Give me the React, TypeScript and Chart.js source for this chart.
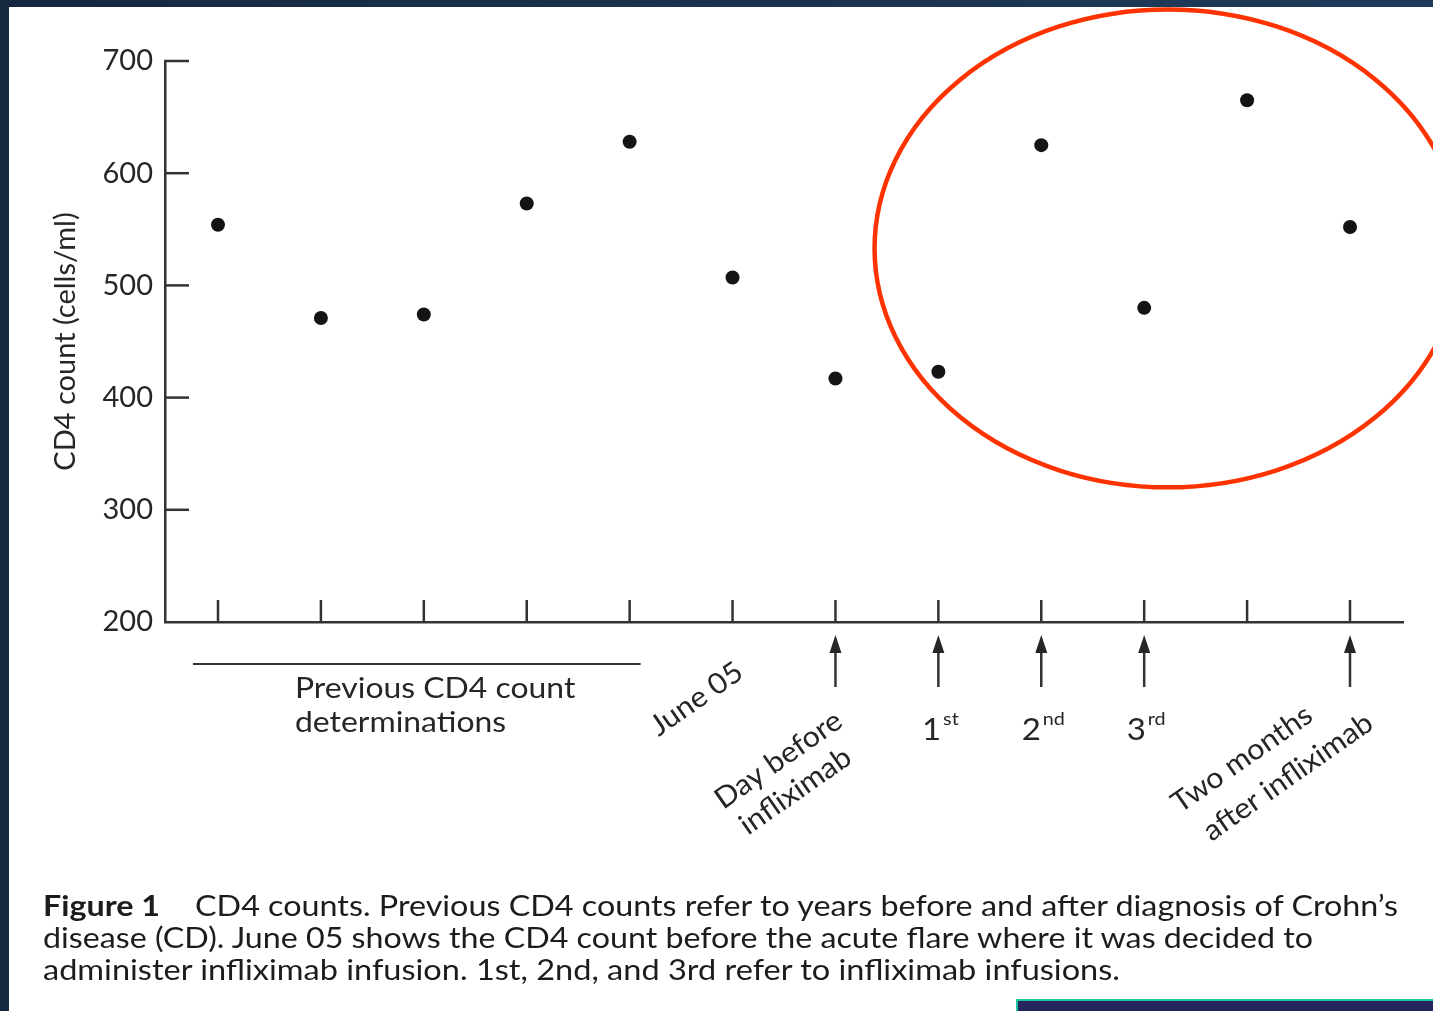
import React, { useEffect, useRef } from "react";
import { Chart, registerables } from "chart.js";

Chart.register(...registerables);

// ---- data ----
const categories = [
  "Previous 1",
  "Previous 2",
  "Previous 3",
  "Previous 4",
  "Previous 5",
  "June 05",
  "Day before infliximab",
  "1st",
  "2nd",
  "3rd",
  "",
  "Two months after infliximab",
];
const cd4Values = [554, 471, 474, 573, 628, 507, 417, 423, 625, 480, 665, 552];
const yTickValues = [200, 300, 400, 500, 600, 700];
const arrowCategories = ["Day before infliximab", "1st", "2nd", "3rd", "Two months after infliximab"];
const superscriptLabels = [
  { category: "1st", main: "1", sup: "st" },
  { category: "2nd", main: "2", sup: "nd" },
  { category: "3rd", main: "3", sup: "rd" },
];
const rotatedLabels = [
  { category: "June 05", lines: ["June 05"] },
  { category: "Day before infliximab", lines: ["Day before", "infliximab"] },
  { category: "Two months after infliximab", lines: ["Two months", "after infliximab"] },
];
const previousSpan = ["Previous 1", "Previous 5"];
const previousLabel = ["Previous CD4 count", "determinations"];
// highlighted region (in data units): center category position, center value, radii
const highlight = { cx: 10.23, cy: 533, rx: 2.85, ry: 213 };

const yTitle = "CD4 count (cells/ml)";
const captionBold = "Figure 1";
const captionLines = [
  "CD4 counts. Previous CD4 counts refer to years before and after diagnosis of Crohn\u2019s",
  "disease (CD). June 05 shows the CD4 count before the acute flare where it was decided to",
  "administer infliximab infusion. 1st, 2nd, and 3rd refer to infliximab infusions.",
];

const FONT = "Lato, 'Noto Sans', sans-serif";
const INK = "#262626";
const STRETCH = 1.1; // horizontal widening to mimic the wider original typeface

// layout offsets (px) for the drawn annotations, relative to category pixel / axis bottom
const rotOffsets: Record<string, [number, number][]> = {
  "June 05": [[-36, 77]],
  "Day before infliximab": [[-57, 138], [-40, 169]],
  "Two months after infliximab": [[-108, 137], [-62, 155]],
};

function stretchedText(ctx: any, text: string, x: number, y: number, sx: number) {
  ctx.save();
  ctx.translate(x, y);
  ctx.scale(sx, 1);
  ctx.fillText(text, 0, 0);
  ctx.restore();
}

const annotationPlugin = {
  id: "cd4Annotations",
  afterDraw(chart: any) {
    const { ctx, chartArea } = chart;
    const xs = chart.scales.x;
    const ys = chart.scales.y;
    const px = (cat: string) => xs.getPixelForValue(categories.indexOf(cat) + 1);
    const bottom = chartArea.bottom;
    const left = chartArea.left;
    ctx.save();
    ctx.strokeStyle = "#333";
    ctx.fillStyle = INK;
    ctx.lineWidth = 2.5;
    ctx.lineCap = "butt";

    // inward y ticks
    yTickValues.forEach((v) => {
      if (v === ys.min) return;
      const y = ys.getPixelForValue(v);
      ctx.beginPath();
      ctx.moveTo(left - 1, y);
      ctx.lineTo(left + 24, y);
      ctx.stroke();
    });
    // inward x ticks
    categories.forEach((_, i) => {
      const x = xs.getPixelForValue(i + 1);
      ctx.beginPath();
      ctx.moveTo(x, bottom - 22);
      ctx.lineTo(x, bottom);
      ctx.stroke();
    });

    // bracket line under previous determinations
    const x0 = xs.getPixelForValue(categories.indexOf(previousSpan[0]) + 1) - 25;
    const x1 = xs.getPixelForValue(categories.indexOf(previousSpan[1]) + 1) + 11;
    ctx.lineWidth = 2;
    ctx.beginPath();
    ctx.moveTo(x0, bottom + 42);
    ctx.lineTo(x1, bottom + 42);
    ctx.stroke();

    ctx.font = `29px ${FONT}`;
    ctx.textAlign = "left";
    ctx.textBaseline = "alphabetic";
    stretchedText(ctx, previousLabel[0], x0 + 102, bottom + 76, STRETCH);
    stretchedText(ctx, previousLabel[1], x0 + 102, bottom + 110, STRETCH);

    // arrows
    ctx.lineWidth = 2.5;
    arrowCategories.forEach((cat) => {
      const x = px(cat);
      ctx.beginPath();
      ctx.moveTo(x, bottom + 28);
      ctx.lineTo(x, bottom + 65);
      ctx.stroke();
      ctx.beginPath();
      ctx.moveTo(x, bottom + 13);
      ctx.lineTo(x - 6, bottom + 31);
      ctx.lineTo(x + 6, bottom + 31);
      ctx.closePath();
      ctx.fill();
    });

    // superscript labels
    superscriptLabels.forEach((s) => {
      const x = px(s.category);
      ctx.font = `30px ${FONT}`;
      const w1 = ctx.measureText(s.main).width * STRETCH;
      ctx.font = `18px ${FONT}`;
      const w2 = ctx.measureText(s.sup).width * STRETCH;
      const gap = 2;
      const start = x - (w1 + gap + w2) / 2 + 2;
      ctx.font = `30px ${FONT}`;
      ctx.textAlign = "left";
      stretchedText(ctx, s.main, start, bottom + 118, STRETCH);
      ctx.font = `18px ${FONT}`;
      stretchedText(ctx, s.sup, start + w1 + gap, bottom + 103, STRETCH);
    });

    // rotated labels
    ctx.font = `29px ${FONT}`;
    ctx.textAlign = "center";
    ctx.textBaseline = "middle";
    rotatedLabels.forEach((r) => {
      const x = px(r.category);
      r.lines.forEach((line, k) => {
        const [dx, dy] = rotOffsets[r.category][k];
        ctx.save();
        ctx.translate(x + dx, bottom + dy);
        ctx.rotate((-35 * Math.PI) / 180);
        ctx.scale(1.05, 1);
        ctx.fillText(line, 0, 0);
        ctx.restore();
      });
    });

    // highlight ellipse
    const cx = xs.getPixelForValue(highlight.cx);
    const cy = ys.getPixelForValue(highlight.cy);
    const rx = Math.abs(xs.getPixelForValue(highlight.cx + highlight.rx) - cx);
    const ry = Math.abs(ys.getPixelForValue(highlight.cy + highlight.ry) - cy);
    ctx.strokeStyle = "#ff3300";
    ctx.lineWidth = 4.5;
    ctx.beginPath();
    ctx.ellipse(cx, cy, rx, ry, 0, 0, Math.PI * 2);
    ctx.stroke();
    ctx.restore();
  },
};

export default function App() {
  const canvasRef = useRef<HTMLCanvasElement>(null);

  useEffect(() => {
    const canvas = canvasRef.current;
    if (!canvas) return;
    const chart = new Chart(canvas, {
      type: "scatter",
      data: {
        labels: categories,
        datasets: [
          {
            label: "CD4 count",
            data: cd4Values.map((v, i) => ({ x: i + 1, y: v })),
            pointRadius: 7,
            pointHoverRadius: 7,
            pointBackgroundColor: "#141414",
            pointBorderWidth: 0,
            showLine: false,
            clip: false as any,
          },
        ],
      },
      options: {
        responsive: false,
        animation: false,
        events: [],
        layout: { padding: { top: 61, right: 30, left: 0, bottom: 0 } },
        plugins: { legend: { display: false }, tooltip: { enabled: false } },
        scales: {
          x: {
            type: "linear",
            min: 0.485,
            max: 12.515,
            ticks: { display: false },
            grid: { display: false, drawTicks: false },
            border: { display: true, color: "#333", width: 2.5 },
            afterFit: (s: any) => {
              s.height = 389;
            },
          },
          y: {
            type: "linear",
            min: yTickValues[0],
            max: yTickValues[yTickValues.length - 1],
            afterBuildTicks: (s: any) => {
              s.ticks = yTickValues.map((v) => ({ value: v }));
            },
            ticks: {
              padding: 12,
              color: INK,
              font: { family: FONT, size: 29 },
            },
            grid: { display: false, drawTicks: false },
            border: { display: true, color: "#333", width: 2.5 },
            title: {
              display: true,
              text: yTitle,
              color: INK,
              font: { family: FONT, size: 29 },
              padding: { top: 48, bottom: 0 },
            },
            afterFit: (s: any) => {
              s.width = 165;
            },
          },
        },
      } as any,
      plugins: [annotationPlugin],
    });
    return () => chart.destroy();
  }, []);

  return (
    <div
      style={{
        position: "absolute",
        left: 0,
        top: 0,
        width: 1433,
        height: 1011,
        background: "#fff",
        overflow: "hidden",
      }}
    >
      <canvas ref={canvasRef} width={1433} height={1011} style={{ position: "absolute", left: 0, top: 0 }} />
      <svg
        width={1433}
        height={1011}
        style={{ position: "absolute", left: 0, top: 0, pointerEvents: "none" }}
      >
        <g fill="#1c1c1c" fontFamily={FONT} fontSize={28}>
          <text x={43} y={916} fontWeight="bold" textLength={117} lengthAdjust="spacingAndGlyphs">
            {captionBold}
          </text>
          <text x={195} y={916} textLength={1203} lengthAdjust="spacingAndGlyphs">
            {captionLines[0]}
          </text>
          <text x={43} y={948} textLength={1270} lengthAdjust="spacingAndGlyphs">
            {captionLines[1]}
          </text>
          <text x={43} y={980} textLength={1077} lengthAdjust="spacingAndGlyphs">
            {captionLines[2]}
          </text>
        </g>
      </svg>
      <div
        style={{
          position: "absolute",
          left: 0,
          top: 0,
          width: 1433,
          height: 7,
          background: "linear-gradient(to right, #162840, #1f3b5b)",
        }}
      />
      <div style={{ position: "absolute", left: 0, top: 0, width: 9, height: 1011, background: "#172a42" }} />
      <div
        style={{
          position: "absolute",
          left: 1016,
          top: 999,
          width: 417,
          height: 14,
          boxSizing: "border-box",
          borderTop: "2px solid #1cc69a",
          borderLeft: "2px solid #1cc69a",
          background: "#26265e",
        }}
      />
    </div>
  );
}
